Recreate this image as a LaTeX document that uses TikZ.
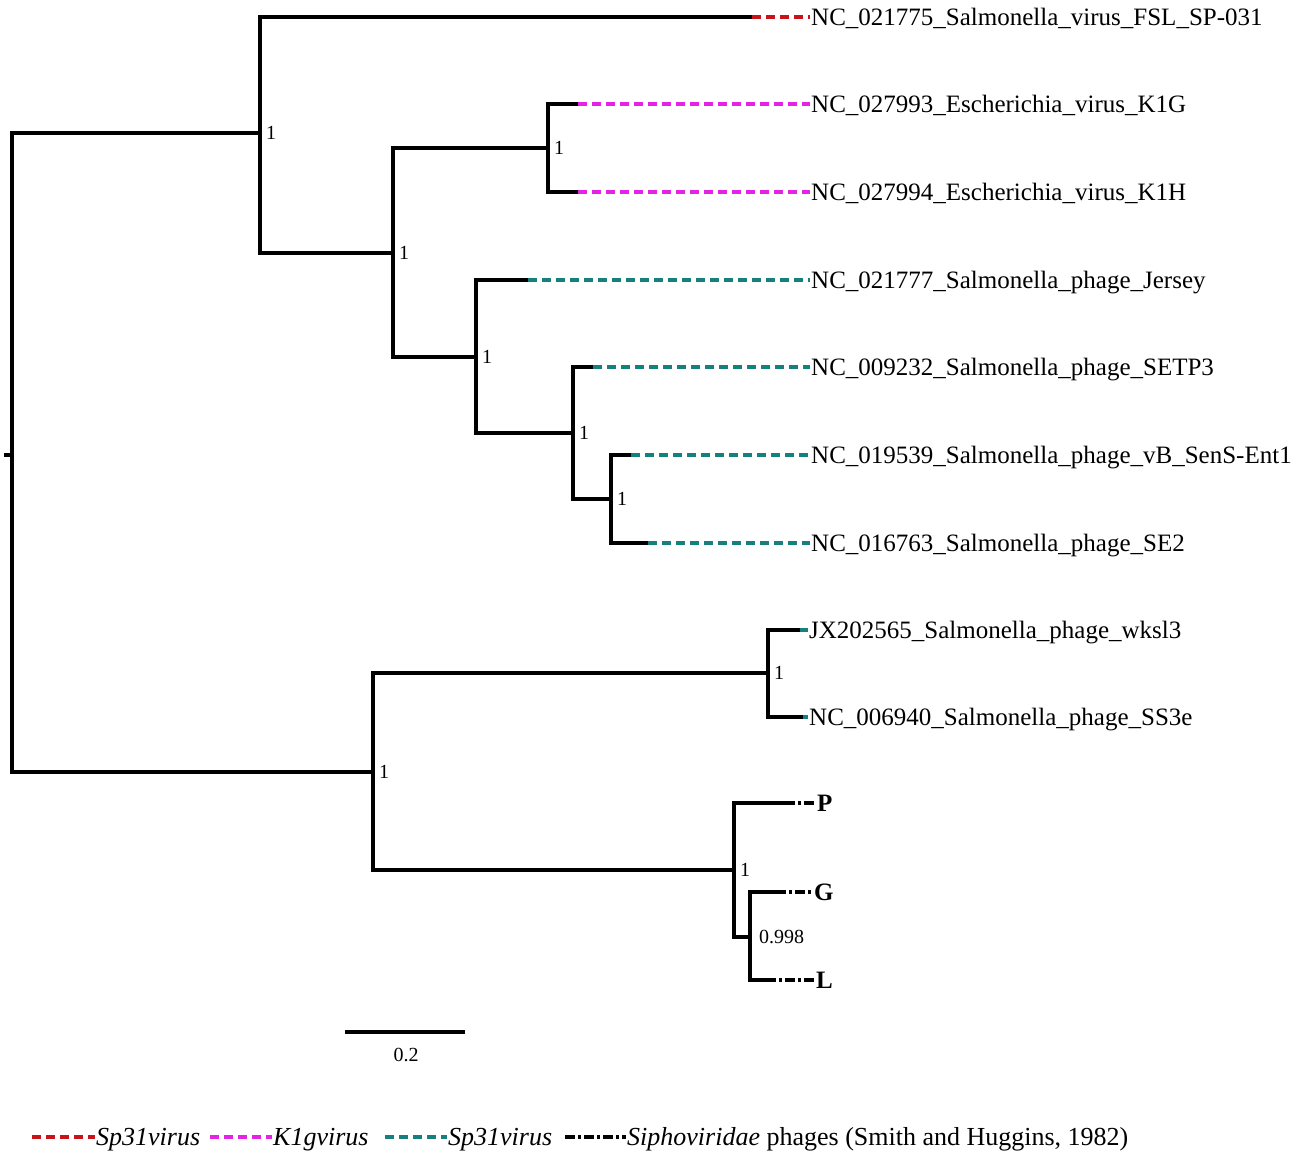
\documentclass[tikz,border=0pt]{standalone}
\usepackage{fontspec}
\setmainfont{Liberation Serif}
\definecolor{cred}{RGB}{200,20,25}
\definecolor{cmag}{RGB}{228,35,228}
\definecolor{cteal}{RGB}{22,128,126}
\begin{document}
\begin{tikzpicture}[x=1pt,y=-1pt,
  br/.style={line width=4pt,line cap=butt,line join=miter,black},
  dsh/.style={line width=3.6pt,line cap=butt,dash pattern=on 9pt off 5pt},
  ddot/.style={line width=3.6pt,line cap=butt,black,dash pattern=on 10pt off 3pt on 3pt off 3pt},
  leaf/.style={anchor=west,inner sep=1pt,font=\fontsize{25}{30}\selectfont,text height=20pt,text depth=3.5pt},
  bleaf/.style={leaf,font=\fontsize{25}{30}\selectfont\bfseries},
  boot/.style={anchor=west,inner sep=1pt,xshift=5pt,font=\fontsize{20}{24}\selectfont,text height=16pt,text depth=2.8pt},
  leg/.style={anchor=west,inner sep=1pt,font=\fontsize{26}{30}\selectfont,text height=21pt,text depth=3.8pt}]
\useasboundingbox (0,0) rectangle (1293,1157);
% internal nodes
\coordinate (r0) at (4,455);
\coordinate (r) at (12,455);
\coordinate (A) at (260,133);
\coordinate (C) at (393,253);
\coordinate (D) at (548,148);
\coordinate (E) at (476,357);
\coordinate (F) at (573,433);
\coordinate (G) at (611,499);
\coordinate (B) at (373,772);
\coordinate (H) at (768,673);
\coordinate (I) at (734,870);
\coordinate (J) at (750,937);
% leaf branch ends (black part)
\coordinate (b1) at (752,17);
\coordinate (b2) at (578,104);
\coordinate (b3) at (578,192);
\coordinate (b4) at (528,280);
\coordinate (b5) at (593,367);
\coordinate (b6) at (631,455);
\coordinate (b7) at (648,543);
\coordinate (b8) at (800,630);
\coordinate (b9) at (803,717);
\coordinate (b10) at (785,803);
\coordinate (b11) at (776,892);
\coordinate (b12) at (766,980);
% labels
\node[leaf] (l1) at (810,17) {NC\_021775\_Salmonella\_virus\_FSL\_SP-031};
\node[leaf] (l2) at (810,104) {NC\_027993\_Escherichia\_virus\_K1G};
\node[leaf] (l3) at (810,192) {NC\_027994\_Escherichia\_virus\_K1H};
\node[leaf] (l4) at (810,280) {NC\_021777\_Salmonella\_phage\_Jersey};
\node[leaf] (l5) at (810,367) {NC\_009232\_Salmonella\_phage\_SETP3};
\node[leaf] (l6) at (810,455) {NC\_019539\_Salmonella\_phage\_vB\_SenS-Ent1};
\node[leaf] (l7) at (810,543) {NC\_016763\_Salmonella\_phage\_SE2};
\node[leaf] (l8) at (808,630) {JX202565\_Salmonella\_phage\_wksl3};
\node[leaf] (l9) at (808,717) {NC\_006940\_Salmonella\_phage\_SS3e};
\node[bleaf] (l10) at (816,803) {P};
\node[bleaf] (l11) at (813,892) {G};
\node[bleaf] (l12) at (815,980) {L};
% tree branches
\draw[br] (r0) -- (r);
\draw[br] (r) |- (A);
\draw[br] (r) |- (B);
\draw[br] (A) |- (b1);
\draw[br] (A) |- (C);
\draw[br] (C) |- (D);
\draw[br] (C) |- (E);
\draw[br] (D) |- (b2);
\draw[br] (D) |- (b3);
\draw[br] (E) |- (b4);
\draw[br] (E) |- (F);
\draw[br] (F) |- (b5);
\draw[br] (F) |- (G);
\draw[br] (G) |- (b6);
\draw[br] (G) |- (b7);
\draw[br] (B) |- (H);
\draw[br] (B) |- (I);
\draw[br] (H) |- (b8);
\draw[br] (H) |- (b9);
\draw[br] (I) |- (b10);
\draw[br] (I) |- (J);
\draw[br] (J) |- (b11);
\draw[br] (J) |- (b12);
% coloured tips
\draw[dsh,cred] (b1) -- (l1.west);
\draw[dsh,cmag] (b2) -- (l2.west);
\draw[dsh,cmag] (b3) -- (l3.west);
\draw[dsh,cteal] (b4) -- (l4.west);
\draw[dsh,cteal] (b5) -- (l5.west);
\draw[dsh,cteal] (b6) -- (l6.west);
\draw[dsh,cteal] (b7) -- (l7.west);
\draw[line width=3.6pt,cteal] (b8) -- (l8.west);
\draw[line width=3.6pt,cteal] (b9) -- (l9.west);
\draw[ddot] (b10) -- (l10.west);
\draw[ddot] (b11) -- (l11.west);
\draw[ddot] (b12) -- (l12.west);
% support values
\node[boot] (sA) at (A) {1};
\node[boot] (sC) at (C) {1};
\node[boot] (sD) at (D) {1};
\node[boot] (sE) at (E) {1};
\node[boot] (sF) at (F) {1};
\node[boot] (sG) at (G) {1};
\node[boot] (sB) at (B) {1};
\node[boot] (sH) at (H) {1};
\node[boot] (sI) at (I) {1};
\node[boot,xshift=3pt] (sJ) at (J) {0.998};
% scale bar
\coordinate (s1) at (345,1032);
\coordinate (s2) at (465,1032);
\draw[line width=4pt] (s1) -- (s2);
\node[anchor=north,inner sep=1pt,font=\fontsize{20}{24}\selectfont] (sl) at (406,1047) {0.2};
% legend
\coordinate (g1a) at (32,1137); \coordinate (g2a) at (210,1137);
\coordinate (g3a) at (385,1137); \coordinate (g4a) at (565,1137);
\node[leg] (g1) at (95,1137) {\textit{Sp31virus}};
\node[leg] (g2) at (272,1137) {\textit{K1gvirus}};
\node[leg] (g3) at (447,1137) {\textit{Sp31virus}};
\node[leg] (g4) at (626,1137) {\textit{Siphoviridae} phages (Smith and Huggins, 1982)};
\draw[dsh,cred] (g1a) -- (g1.west);
\draw[dsh,cmag] (g2a) -- (g2.west);
\draw[dsh,cteal] (g3a) -- (g3.west);
\draw[ddot] (g4a) -- (g4.west);
\end{tikzpicture}
\end{document}
